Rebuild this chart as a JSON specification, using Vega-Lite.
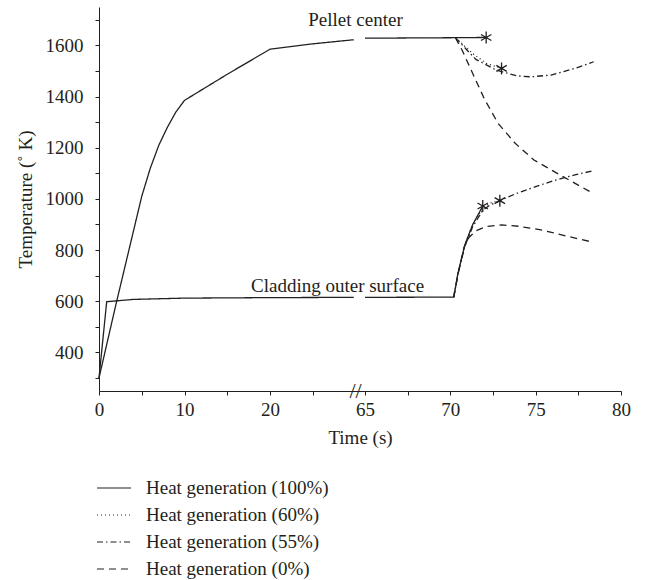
{
  "$schema": "https://vega.github.io/schema/vega-lite/v6.json",
  "width": 522,
  "height": 384,
  "autosize": "none",
  "padding": {"left": 99, "top": 7, "right": 26, "bottom": 189},
  "background": "white",
  "config": {
    "view": {"stroke": null},
    "font": "Liberation Serif",
    "axis": {"labelFont": "Liberation Serif", "titleFont": "Liberation Serif", "labelFontSize": 19, "titleFontSize": 19, "labelColor": "#231f20", "titleColor": "#231f20", "titleFontWeight": "normal", "domainColor": "#231f20", "tickColor": "#231f20", "tickSize": 4, "grid": false},
    "legend": {"labelFont": "Liberation Serif", "labelFontSize": 19, "labelColor": "#231f20", "labelLimit": 0}
  },
  "datasets": {
    "curves": [
      {"series": "Heat generation (100%)", "loc": "pellet", "part": "a", "t": 0, "v": 300},
      {"series": "Heat generation (100%)", "loc": "pellet", "part": "a", "t": 1, "v": 445},
      {"series": "Heat generation (100%)", "loc": "pellet", "part": "a", "t": 2, "v": 590},
      {"series": "Heat generation (100%)", "loc": "pellet", "part": "a", "t": 3, "v": 730},
      {"series": "Heat generation (100%)", "loc": "pellet", "part": "a", "t": 4, "v": 870},
      {"series": "Heat generation (100%)", "loc": "pellet", "part": "a", "t": 5, "v": 1010},
      {"series": "Heat generation (100%)", "loc": "pellet", "part": "a", "t": 6, "v": 1120},
      {"series": "Heat generation (100%)", "loc": "pellet", "part": "a", "t": 7, "v": 1210},
      {"series": "Heat generation (100%)", "loc": "pellet", "part": "a", "t": 8, "v": 1280},
      {"series": "Heat generation (100%)", "loc": "pellet", "part": "a", "t": 9, "v": 1340},
      {"series": "Heat generation (100%)", "loc": "pellet", "part": "a", "t": 10, "v": 1385},
      {"series": "Heat generation (100%)", "loc": "pellet", "part": "a", "t": 15, "v": 1487},
      {"series": "Heat generation (100%)", "loc": "pellet", "part": "a", "t": 20, "v": 1585},
      {"series": "Heat generation (100%)", "loc": "pellet", "part": "a", "t": 25, "v": 1606},
      {"series": "Heat generation (100%)", "loc": "pellet", "part": "a", "t": 29.8, "v": 1622},
      {"series": "Heat generation (100%)", "loc": "pellet", "part": "b", "t": 65, "v": 1628},
      {"series": "Heat generation (100%)", "loc": "pellet", "part": "b", "t": 70.3, "v": 1630},
      {"series": "Heat generation (100%)", "loc": "pellet", "part": "b", "t": 72.1, "v": 1631},
      {"series": "Heat generation (100%)", "loc": "clad", "part": "a", "t": 0, "v": 300},
      {"series": "Heat generation (100%)", "loc": "clad", "part": "a", "t": 0.9, "v": 598},
      {"series": "Heat generation (100%)", "loc": "clad", "part": "a", "t": 4, "v": 607},
      {"series": "Heat generation (100%)", "loc": "clad", "part": "a", "t": 10, "v": 612},
      {"series": "Heat generation (100%)", "loc": "clad", "part": "a", "t": 20, "v": 614},
      {"series": "Heat generation (100%)", "loc": "clad", "part": "a", "t": 29.8, "v": 615},
      {"series": "Heat generation (100%)", "loc": "clad", "part": "b", "t": 65, "v": 615},
      {"series": "Heat generation (100%)", "loc": "clad", "part": "b", "t": 70.2, "v": 616},
      {"series": "Heat generation (100%)", "loc": "clad", "part": "b", "t": 70.45, "v": 710},
      {"series": "Heat generation (100%)", "loc": "clad", "part": "b", "t": 70.85, "v": 820},
      {"series": "Heat generation (100%)", "loc": "clad", "part": "b", "t": 71.3, "v": 898},
      {"series": "Heat generation (100%)", "loc": "clad", "part": "b", "t": 71.9, "v": 972},
      {"series": "Heat generation (60%)", "loc": "pellet", "part": "b", "t": 70.3, "v": 1630},
      {"series": "Heat generation (60%)", "loc": "pellet", "part": "b", "t": 71.3, "v": 1569},
      {"series": "Heat generation (60%)", "loc": "pellet", "part": "b", "t": 72.1, "v": 1530},
      {"series": "Heat generation (60%)", "loc": "pellet", "part": "b", "t": 73.0, "v": 1510},
      {"series": "Heat generation (60%)", "loc": "clad", "part": "b", "t": 70.2, "v": 616},
      {"series": "Heat generation (60%)", "loc": "clad", "part": "b", "t": 70.45, "v": 710},
      {"series": "Heat generation (60%)", "loc": "clad", "part": "b", "t": 70.85, "v": 820},
      {"series": "Heat generation (60%)", "loc": "clad", "part": "b", "t": 71.3, "v": 898},
      {"series": "Heat generation (60%)", "loc": "clad", "part": "b", "t": 71.9, "v": 965},
      {"series": "Heat generation (60%)", "loc": "clad", "part": "b", "t": 72.4, "v": 985},
      {"series": "Heat generation (60%)", "loc": "clad", "part": "b", "t": 72.9, "v": 993},
      {"series": "Heat generation (55%)", "loc": "pellet", "part": "b", "t": 70.3, "v": 1630},
      {"series": "Heat generation (55%)", "loc": "pellet", "part": "b", "t": 71.0, "v": 1580},
      {"series": "Heat generation (55%)", "loc": "pellet", "part": "b", "t": 71.5, "v": 1545},
      {"series": "Heat generation (55%)", "loc": "pellet", "part": "b", "t": 72.7, "v": 1503},
      {"series": "Heat generation (55%)", "loc": "pellet", "part": "b", "t": 73.9, "v": 1481},
      {"series": "Heat generation (55%)", "loc": "pellet", "part": "b", "t": 74.7, "v": 1477},
      {"series": "Heat generation (55%)", "loc": "pellet", "part": "b", "t": 75.9, "v": 1484},
      {"series": "Heat generation (55%)", "loc": "pellet", "part": "b", "t": 77.4, "v": 1512},
      {"series": "Heat generation (55%)", "loc": "pellet", "part": "b", "t": 78.4, "v": 1536},
      {"series": "Heat generation (55%)", "loc": "clad", "part": "b", "t": 70.2, "v": 616},
      {"series": "Heat generation (55%)", "loc": "clad", "part": "b", "t": 70.45, "v": 708},
      {"series": "Heat generation (55%)", "loc": "clad", "part": "b", "t": 70.85, "v": 815},
      {"series": "Heat generation (55%)", "loc": "clad", "part": "b", "t": 71.3, "v": 890},
      {"series": "Heat generation (55%)", "loc": "clad", "part": "b", "t": 71.9, "v": 955},
      {"series": "Heat generation (55%)", "loc": "clad", "part": "b", "t": 72.3, "v": 975},
      {"series": "Heat generation (55%)", "loc": "clad", "part": "b", "t": 72.9, "v": 993},
      {"series": "Heat generation (55%)", "loc": "clad", "part": "b", "t": 73.9, "v": 1022},
      {"series": "Heat generation (55%)", "loc": "clad", "part": "b", "t": 75.0, "v": 1048},
      {"series": "Heat generation (55%)", "loc": "clad", "part": "b", "t": 76.2, "v": 1074},
      {"series": "Heat generation (55%)", "loc": "clad", "part": "b", "t": 77.3, "v": 1094},
      {"series": "Heat generation (55%)", "loc": "clad", "part": "b", "t": 78.4, "v": 1110},
      {"series": "Heat generation (0%)", "loc": "pellet", "part": "b", "t": 70.3, "v": 1630},
      {"series": "Heat generation (0%)", "loc": "pellet", "part": "b", "t": 70.7, "v": 1580},
      {"series": "Heat generation (0%)", "loc": "pellet", "part": "b", "t": 71.4, "v": 1477},
      {"series": "Heat generation (0%)", "loc": "pellet", "part": "b", "t": 72.0, "v": 1390},
      {"series": "Heat generation (0%)", "loc": "pellet", "part": "b", "t": 72.8, "v": 1295},
      {"series": "Heat generation (0%)", "loc": "pellet", "part": "b", "t": 73.8, "v": 1217},
      {"series": "Heat generation (0%)", "loc": "pellet", "part": "b", "t": 74.9, "v": 1152},
      {"series": "Heat generation (0%)", "loc": "pellet", "part": "b", "t": 76.6, "v": 1087},
      {"series": "Heat generation (0%)", "loc": "pellet", "part": "b", "t": 78.4, "v": 1020},
      {"series": "Heat generation (0%)", "loc": "clad", "part": "b", "t": 70.2, "v": 616},
      {"series": "Heat generation (0%)", "loc": "clad", "part": "b", "t": 70.45, "v": 705},
      {"series": "Heat generation (0%)", "loc": "clad", "part": "b", "t": 70.8, "v": 810},
      {"series": "Heat generation (0%)", "loc": "clad", "part": "b", "t": 71.1, "v": 850},
      {"series": "Heat generation (0%)", "loc": "clad", "part": "b", "t": 71.5, "v": 875},
      {"series": "Heat generation (0%)", "loc": "clad", "part": "b", "t": 72.1, "v": 892},
      {"series": "Heat generation (0%)", "loc": "clad", "part": "b", "t": 73.0, "v": 898},
      {"series": "Heat generation (0%)", "loc": "clad", "part": "b", "t": 74.0, "v": 893},
      {"series": "Heat generation (0%)", "loc": "clad", "part": "b", "t": 75.3, "v": 879},
      {"series": "Heat generation (0%)", "loc": "clad", "part": "b", "t": 76.9, "v": 853},
      {"series": "Heat generation (0%)", "loc": "clad", "part": "b", "t": 78.2, "v": 833}
    ],
    "stars": [
      {"t": 72.1, "v": 1631},
      {"t": 73.0, "v": 1510},
      {"t": 71.9, "v": 972},
      {"t": 72.9, "v": 993}
    ],
    "notes": [
      {"label": "Pellet center", "t": 30, "v": 1698},
      {"label": "Cladding outer surface", "t": 27.9, "v": 660}
    ],
    "breaks": [
      {"label": "//", "t": 30.2, "v": 249}
    ]
  },
  "encoding": {
    "x": {
      "field": "t", "type": "quantitative",
      "scale": {"domain": [0, 30, 65, 80], "range": [0, 256.5, 266, 522], "nice": false, "zero": false},
      "axis": {
        "title": "Time (s)",
        "values": [0, 5, 10, 15, 20, 25, 65, 67.5, 70, 72.5, 75, 77.5, 80],
        "labelExpr": "indexof([0, 10, 20, 65, 70, 75, 80], datum.value) >= 0 ? datum.label : ''",
        "labelPadding": 5,
        "titlePadding": 9,
        "labelFlush": false,
        "labelOverlap": false
      }
    },
    "y": {
      "field": "v", "type": "quantitative",
      "scale": {"domain": [249, 1750], "nice": false, "zero": false},
      "axis": {
        "title": "Temperature (˚ K)",
        "values": [300, 400, 500, 600, 700, 800, 900, 1000, 1100, 1200, 1300, 1400, 1500, 1600, 1700],
        "labelExpr": "datum.value % 200 == 0 ? datum.label : ''",
        "format": "d",
        "labelPadding": 12,
        "titlePadding": 10,
        "labelOverlap": false
      }
    }
  },
  "layer": [
    {
      "data": {"name": "curves"},
      "mark": {"type": "line", "color": "#231f20", "strokeWidth": 1.3},
      "encoding": {
        "strokeDash": {
          "field": "series", "type": "nominal",
          "scale": {
            "domain": ["Heat generation (100%)", "Heat generation (60%)", "Heat generation (55%)", "Heat generation (0%)"],
            "range": [[1, 0], [1, 3], [6, 3, 1.5, 3], [7, 5]]
          },
          "legend": {
            "title": null,
            "orient": "none",
            "legendX": -3,
            "legendY": 471,
            "symbolType": "stroke",
            "symbolSize": 1156,
            "symbolStrokeColor": "#231f20",
            "symbolStrokeWidth": 1.2,
            "clipHeight": 20,
            "rowPadding": 7,
            "labelOffset": 14,
            "labelLimit": 0
          }
        },
        "detail": [{"field": "loc"}, {"field": "part"}]
      }
    },
    {
      "data": {"name": "stars"},
      "mark": {"type": "point", "shape": "M0,-1L0,1M-0.87,-0.5L0.87,0.5M-0.87,0.5L0.87,-0.5", "size": 144, "filled": false, "stroke": "#231f20", "strokeWidth": 1.3, "opacity": 1}
    },
    {
      "data": {"name": "notes"},
      "mark": {"type": "text", "font": "Liberation Serif", "fontSize": 19, "color": "#231f20", "align": "center", "baseline": "middle"},
      "encoding": {"text": {"field": "label"}}
    },
    {
      "data": {"name": "breaks"},
      "mark": {"type": "text", "font": "Liberation Serif", "fontSize": 22, "color": "#231f20", "align": "center", "baseline": "middle", "clip": false},
      "encoding": {"text": {"field": "label"}}
    }
  ]
}
